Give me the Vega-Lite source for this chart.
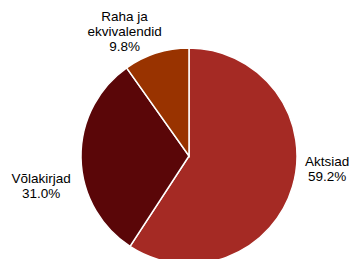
{
  "$schema": "https://vega.github.io/schema/vega-lite/v6.json",
  "width": 324,
  "height": 206,
  "autosize": "none",
  "padding": {"left": 27, "top": 53, "right": 0, "bottom": 0},
  "background": "white",
  "view": {"stroke": null},
  "data": {"values": [
    {"category": "Aktsiad", "name": "Aktsiad", "value": 59.2},
    {"category": "Võlakirjad", "name": "Võlakirjad", "value": 31.0},
    {"category": "Raha ja ekvivalendid", "name": "Raha ja\nekvivalendid", "value": 9.8}
  ]},
  "transform": [
    {"calculate": "datum.name + '\\n' + format(datum.value, '.1f') + '%'", "as": "label"}
  ],
  "encoding": {
    "theta": {"field": "value", "type": "quantitative", "stack": true},
    "order": {"field": "value", "type": "quantitative", "sort": "descending"}
  },
  "layer": [
    {
      "mark": {"type": "arc", "outerRadius": 108, "stroke": "white", "strokeWidth": 1.5},
      "encoding": {
        "color": {
          "field": "category",
          "type": "nominal",
          "scale": {
            "domain": ["Aktsiad", "Võlakirjad", "Raha ja ekvivalendid"],
            "range": ["#A52A24", "#5A0608", "#993300"]
          },
          "legend": null
        }
      }
    },
    {
      "mark": {
        "type": "text",
        "radius": 140,
        "font": "Liberation Sans",
        "fontSize": 13.5,
        "lineHeight": 15,
        "lineBreak": "\n",
        "align": "center",
        "baseline": "middle",
        "color": "#000000",
        "dx": {"expr": "datum.category == 'Aktsiad' ? 4 : datum.category == 'Võlakirjad' ? -8 : -22"},
        "dy": {"expr": "datum.category == 'Aktsiad' ? -34 : datum.category == 'Võlakirjad' ? 20 : -6"}
      },
      "encoding": {
        "text": {"field": "label", "type": "nominal"}
      }
    }
  ]
}
